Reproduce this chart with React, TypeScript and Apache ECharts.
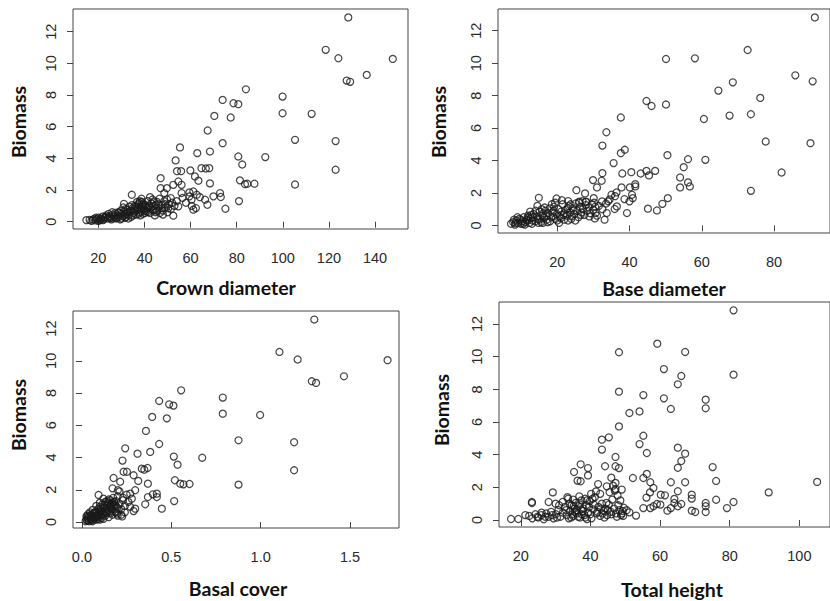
import React, { useEffect, useRef } from "react";
import * as echarts from "echarts";

// ---- Data (x, biomass) per panel ----
const crownDiameter: number[][] = [
  [128.4, 12.9], [118.6, 10.85], [124.1, 10.32], [147.7, 10.28], [136.4, 9.27], [127.7, 8.91], [129.2, 8.83],
  [84.0, 8.36], [73.9, 7.69], [78.6, 7.48], [80.7, 7.42], [99.9, 7.9], [99.9, 6.85], [112.5, 6.81], [70.3, 6.68],
  [77.4, 6.58], [67.4, 5.76], [73.9, 4.96], [105.3, 5.17], [122.9, 5.09], [55.4, 4.69], [62.9, 4.33], [68.4, 4.43],
  [80.7, 4.12], [82.4, 3.61], [92.4, 4.08], [53.5, 3.87], [64.7, 3.38], [66.6, 3.36], [68.1, 3.38], [122.9, 3.28],
  [54.1, 3.19], [55.9, 3.19], [59.9, 3.24], [61.9, 2.86], [63.4, 2.59], [68.4, 2.42], [81.4, 2.61], [83.6, 2.37],
  [84.6, 2.4], [87.7, 2.4], [105.3, 2.35], [47.0, 2.75], [47.0, 2.12], [49.7, 2.12], [52.5, 2.33], [54.7, 2.54],
  [56.1, 2.33], [56.1, 1.81], [59.5, 1.85], [61.2, 1.91], [62.7, 1.7], [66.3, 1.39], [67.3, 1.07], [69.9, 1.6],
  [72.8, 1.81], [73.1, 1.56], [75.1, 0.82], [81.0, 1.3], [61.2, 0.76], [62.3, 0.86], [60.4, 1.39], [52.5, 0.38],
  [54.7, 0.97], [51.4, 1.49], [48.6, 1.81], [34.5, 1.7], [31.1, 1.13], [42.4, 1.55], [44.1, 1.28],
  [14.8, 0.1], [16.2, 0.12], [17.7, 0.13], [18.3, 0.2], [18.8, 0.08], [19.4, 0.16], [20.1, 0.25], [20.6, 0.1],
  [21.2, 0.2], [21.8, 0.32], [22.3, 0.15], [22.9, 0.25], [23.4, 0.4], [24.0, 0.2], [24.5, 0.5], [25.1, 0.3],
  [25.6, 0.15], [26.2, 0.45], [26.8, 0.3], [27.3, 0.55], [27.8, 0.2], [28.4, 0.4], [28.9, 0.3], [29.5, 0.15],
  [30.0, 0.5], [30.5, 0.35], [31.0, 0.62], [31.6, 0.25], [32.1, 0.5], [32.6, 0.75], [33.1, 0.4], [33.7, 0.6],
  [34.2, 0.3], [34.8, 0.85], [35.3, 0.55], [35.8, 1.0], [36.3, 0.45], [36.9, 0.75], [37.4, 1.1], [37.9, 0.6],
  [38.4, 0.9], [38.9, 1.25], [39.4, 0.5], [39.9, 0.8], [40.4, 1.05], [40.9, 0.65], [41.4, 1.3], [41.9, 0.9],
  [42.5, 0.55], [43.0, 1.15], [43.6, 0.75], [44.2, 1.0], [44.8, 0.6], [45.4, 1.25], [46.0, 0.85], [46.7, 0.55],
  [47.3, 1.05], [47.9, 0.7], [48.6, 1.3], [49.3, 0.9], [50.0, 0.6], [50.7, 1.1], [37.0, 0.85], [38.0, 1.3],
  [39.0, 0.95], [40.0, 0.7], [36.0, 0.65], [35.0, 0.4], [33.5, 0.95], [31.5, 0.45], [29.0, 0.55], [27.0, 0.38],
  [25.0, 0.22], [23.0, 0.3], [21.0, 0.15], [19.0, 0.25], [42.0, 1.0], [43.5, 1.4], [44.5, 0.4], [45.5, 0.7],
  [46.5, 1.45], [41.0, 0.8], [39.5, 1.15], [38.5, 0.7], [37.5, 0.5], [34.0, 0.7], [32.0, 0.3], [30.8, 0.9],
  [28.0, 0.25], [26.0, 0.6], [48.0, 0.45], [49.8, 1.4], [51.5, 0.8], [53.0, 1.0], [54.0, 1.3], [56.5, 1.5],
  [58.0, 1.2], [59.5, 1.6], [60.5, 1.0], [64.0, 1.55],
  [17.0, 0.05], [20.0, 0.05], [22.0, 0.1], [24.8, 0.35], [26.5, 0.2], [28.6, 0.6], [30.2, 0.2], [32.3, 0.6],
  [33.0, 0.2], [35.5, 0.75], [36.5, 0.95], [37.7, 1.2], [38.2, 0.4], [39.2, 1.05], [40.2, 0.55], [40.7, 0.95],
  [41.6, 0.6], [42.8, 0.85], [44.0, 0.7], [45.0, 1.05], [46.2, 1.1], [47.6, 0.85], [49.0, 1.1], [50.3, 0.85],
  [52.0, 1.2], [36.8, 1.25], [38.7, 1.45], [34.6, 1.05], [31.8, 0.8], [29.8, 0.7],
];

const baseDiameter: number[][] = [
  [91.3, 12.82], [72.7, 10.81], [50.1, 10.26], [58.1, 10.3], [85.9, 9.25], [90.7, 8.88], [68.6, 8.82], [64.6, 8.31],
  [76.2, 7.86], [44.7, 7.67], [46.1, 7.36], [50.1, 7.45], [37.6, 6.65], [60.6, 6.56], [67.7, 6.77], [73.6, 6.85],
  [33.6, 5.74], [32.5, 4.92], [77.7, 5.17], [90.1, 5.07], [37.6, 4.45], [38.7, 4.66], [50.5, 4.33], [56.2, 4.08],
  [61.0, 4.04], [35.6, 3.84], [55.0, 3.59], [38.0, 3.2], [40.5, 3.28], [43.1, 3.2], [44.7, 3.36], [45.4, 3.08],
  [47.1, 3.36], [32.5, 3.22], [29.9, 2.79], [32.3, 2.75], [31.0, 2.34], [54.0, 2.95], [54.0, 2.34], [56.2, 2.65],
  [56.7, 2.4], [73.6, 2.13], [82.1, 3.26], [25.3, 2.17], [27.7, 1.97], [14.9, 1.7], [40.1, 2.34], [41.6, 2.4],
  [41.6, 2.54], [37.8, 2.34], [35.0, 1.89], [36.4, 2.03], [40.7, 1.89], [38.6, 1.62], [40.0, 1.48], [40.9, 1.68],
  [50.6, 1.68], [49.1, 1.33], [45.1, 1.03], [47.6, 0.92], [39.3, 0.76], [35.9, 1.01], [36.5, 1.17], [33.7, 0.76],
  [33.1, 0.35], [30.4, 0.43], [30.6, 0.76], [32.4, 1.48], [34.1, 1.48], [30.1, 1.68], [19.8, 1.66], [27.9, 1.46],
  [26.1, 1.46], [23.0, 1.5],
  [7.2, 0.1], [7.8, 0.2], [8.3, 0.05], [8.7, 0.3], [9.1, 0.15], [9.5, 0.4], [9.9, 0.1], [10.3, 0.25], [10.7, 0.5],
  [11.1, 0.2], [11.5, 0.35], [11.9, 0.6], [12.3, 0.15], [12.7, 0.45], [13.1, 0.3], [13.5, 0.7], [13.9, 0.25],
  [14.3, 0.55], [14.7, 0.4], [15.1, 0.85], [15.5, 0.2], [15.9, 0.6], [16.3, 0.45], [16.7, 0.9], [17.1, 0.35],
  [17.5, 0.75], [17.9, 1.05], [18.3, 0.5], [18.7, 0.8], [19.1, 1.15], [19.5, 0.4], [19.9, 0.7], [20.3, 1.0],
  [20.7, 0.55], [21.1, 0.85], [21.5, 1.3], [21.9, 0.35], [22.3, 0.95], [22.7, 0.6], [23.1, 1.2], [23.5, 0.8],
  [23.9, 0.4], [24.3, 1.05], [24.7, 0.7], [25.1, 1.35], [25.5, 0.9], [25.9, 0.5], [26.3, 1.15], [26.7, 0.8],
  [27.1, 1.0], [27.5, 0.65], [27.9, 1.25], [28.3, 0.9], [28.7, 1.1], [29.1, 0.75], [29.6, 1.3], [30.0, 0.95],
  [30.5, 1.15], [31.0, 0.6], [31.5, 1.2], [10.0, 0.35], [11.0, 0.05], [12.0, 0.5], [13.0, 0.1], [14.0, 0.9],
  [15.0, 0.35], [16.0, 0.15], [17.0, 0.6], [18.0, 0.25], [19.0, 0.9], [20.0, 0.3], [21.0, 0.45], [22.0, 0.75],
  [23.0, 0.3], [24.0, 0.55], [25.0, 0.3], [26.0, 1.4], [14.5, 1.2], [16.5, 1.1], [18.5, 1.3], [12.5, 0.85],
  [9.0, 0.5], [8.0, 0.35], [27.0, 1.5], [28.0, 1.45], [32.5, 1.0], [33.5, 1.35], [34.5, 1.6], [36.0, 1.8],
  [8.5, 0.15], [10.5, 0.1], [11.8, 0.3], [13.3, 0.5], [14.8, 0.15], [16.1, 0.75], [17.3, 0.2], [18.9, 0.55],
  [20.5, 0.15], [21.7, 0.65], [22.9, 1.05], [24.5, 0.9], [26.5, 0.65], [28.9, 0.55], [30.2, 1.4], [19.4, 1.4],
  [21.3, 1.55], [23.7, 1.3], [12.9, 0.65], [15.7, 1.0],
];

const basalCover: number[][] = [
  [1.3, 12.56], [1.105, 10.55], [1.207, 10.08], [1.71, 10.04], [1.466, 9.04], [1.286, 8.73], [1.31, 8.63],
  [0.555, 8.17], [0.432, 7.51], [0.488, 7.3], [0.512, 7.22], [0.788, 7.72], [0.788, 6.72], [0.997, 6.64],
  [0.393, 6.52], [0.475, 6.43], [0.358, 5.65], [0.432, 4.84], [0.876, 5.07], [1.187, 4.95], [0.242, 4.57],
  [0.311, 4.24], [0.382, 4.35], [0.514, 4.06], [0.535, 3.56], [0.673, 3.99], [0.227, 3.81], [0.335, 3.31],
  [0.367, 3.35], [0.349, 3.25], [1.187, 3.21], [0.233, 3.12], [0.252, 3.12], [0.289, 2.9], [0.315, 2.55],
  [0.369, 2.38], [0.52, 2.59], [0.55, 2.38], [0.568, 2.34], [0.602, 2.36], [0.876, 2.32], [0.177, 2.73],
  [0.171, 2.09], [0.214, 2.5], [0.201, 1.97], [0.298, 1.97], [0.419, 1.76], [0.397, 1.72], [0.369, 1.55],
  [0.419, 1.55], [0.516, 1.3], [0.447, 0.83], [0.354, 1.1], [0.298, 0.83], [0.289, 0.68], [0.225, 0.35],
  [0.196, 0.52], [0.093, 1.68], [0.27, 1.76], [0.279, 1.45],
  [0.02, 0.05], [0.025, 0.15], [0.03, 0.25], [0.035, 0.1], [0.04, 0.35], [0.045, 0.2], [0.05, 0.45], [0.055, 0.1],
  [0.06, 0.3], [0.065, 0.55], [0.07, 0.2], [0.075, 0.4], [0.08, 0.65], [0.085, 0.3], [0.09, 0.8], [0.095, 0.5],
  [0.1, 0.95], [0.105, 0.35], [0.11, 0.7], [0.115, 1.1], [0.12, 0.5], [0.125, 0.85], [0.13, 1.25], [0.135, 0.6],
  [0.14, 1.0], [0.145, 0.75], [0.15, 1.4], [0.155, 0.9], [0.16, 0.55], [0.165, 1.15], [0.17, 0.8], [0.175, 1.5],
  [0.18, 1.0], [0.185, 0.65], [0.19, 1.3], [0.195, 0.9], [0.2, 1.6], [0.21, 1.1], [0.22, 0.8], [0.23, 1.35],
  [0.24, 1.0], [0.25, 1.7], [0.26, 1.25], [0.27, 0.95], [0.05, 0.25], [0.06, 0.05], [0.07, 0.5], [0.08, 0.15],
  [0.09, 0.4], [0.1, 0.6], [0.11, 0.25], [0.12, 0.9], [0.13, 0.4], [0.14, 0.55], [0.15, 0.3], [0.16, 1.05],
  [0.17, 0.45], [0.18, 1.25], [0.19, 0.6], [0.2, 0.85], [0.04, 0.05], [0.03, 0.4], [0.06, 0.75], [0.08, 1.0],
  [0.1, 1.2], [0.12, 1.45], [0.14, 1.3], [0.21, 1.9], [0.23, 1.5], [0.22, 0.45], [0.24, 0.6], [0.09, 0.2],
  [0.11, 0.45], [0.13, 0.7], [0.15, 1.1], [0.17, 1.2], [0.2, 0.4], [0.025, 0.35], [0.035, 0.5], [0.045, 0.6],
  [0.03, 0.08], [0.05, 0.12], [0.065, 0.25], [0.075, 0.6], [0.085, 0.45], [0.095, 0.7], [0.105, 0.85],
  [0.115, 0.55], [0.125, 1.05], [0.135, 0.8], [0.145, 1.2], [0.155, 0.65], [0.165, 0.95], [0.185, 1.1],
  [0.055, 0.4], [0.07, 0.35], [0.1, 0.15], [0.16, 1.35], [0.19, 1.0], [0.12, 0.2],
];

const totalHeight: number[][] = [
  [81.1, 12.84], [59.2, 10.8], [48.2, 10.27], [67.2, 10.29], [61.1, 9.24], [66.1, 8.82], [81.1, 8.9], [65.1, 8.31],
  [48.2, 7.86], [55.2, 7.65], [61.1, 7.45], [73.1, 7.37], [73.1, 6.84], [63.1, 6.8], [54.1, 6.65], [51.2, 6.55],
  [48.2, 5.73], [55.2, 5.16], [43.3, 4.92], [45.3, 5.06], [54.1, 4.65], [43.3, 4.31], [56.2, 4.1], [65.1, 4.43],
  [67.2, 4.06], [47.2, 3.86], [66.1, 3.61], [44.2, 3.29], [47.2, 3.29], [48.2, 3.18], [37.2, 3.41], [39.3, 3.18],
  [65.1, 3.2], [75.1, 3.24], [35.3, 2.94], [39.3, 2.73], [36.3, 2.41], [37.2, 2.37], [46.0, 2.59], [52.2, 2.57],
  [55.2, 2.57], [56.2, 2.82], [57.2, 2.31], [63.1, 2.31], [67.2, 2.31], [76.1, 2.39], [105.1, 2.33], [91.2, 1.69],
  [42.2, 2.2], [47.2, 2.27], [44.7, 2.06], [47.2, 1.9], [49.0, 1.86], [58.1, 1.96], [57.1, 1.69], [65.1, 1.76],
  [69.1, 1.55], [69.1, 1.31], [76.1, 1.24], [81.1, 1.1], [79.2, 0.73], [73.1, 1.04], [73.1, 0.84], [73.1, 0.49],
  [69.1, 0.57], [70.1, 0.49], [29.2, 1.69], [23.2, 1.1], [23.2, 1.04], [17.2, 0.06], [19.3, 0.06], [53.1, 0.27],
  [51.2, 0.47], [60.2, 1.55], [61.4, 1.51], [59.1, 0.98], [60.1, 0.94], [56.1, 1.37], [55.2, 0.73], [57.2, 0.73],
  [58.1, 0.84], [62.1, 0.57], [63.1, 0.73], [64.1, 1.04], [66.1, 0.98], [65.1, 0.84], [64.1, 1.29],
  [21.3, 0.3], [22.4, 0.25], [23.3, 0.1], [24.2, 0.35], [25.0, 0.15], [25.9, 0.3], [26.6, 0.05], [27.3, 0.4],
  [28.0, 0.2], [28.7, 0.5], [29.4, 0.1], [30.1, 0.35], [30.8, 0.6], [31.4, 0.2], [32.1, 0.45], [32.7, 0.8],
  [33.2, 0.3], [33.6, 1.3], [33.8, 0.1], [34.2, 0.55], [34.6, 0.9], [35.0, 0.25], [35.4, 0.7], [35.8, 1.05],
  [36.2, 0.4], [36.6, 0.85], [37.0, 0.15], [37.4, 1.2], [37.8, 0.55], [38.3, 0.3], [38.8, 0.9], [39.3, 0.45],
  [39.8, 1.15], [40.3, 0.1], [40.8, 0.65], [41.3, 1.4], [41.8, 0.4], [42.3, 0.8], [42.8, 0.25], [43.3, 1.0],
  [43.8, 0.55], [44.3, 0.7], [44.8, 0.3], [45.3, 0.95], [45.8, 0.5], [46.3, 1.25], [46.8, 0.7], [47.3, 0.4],
  [47.8, 1.5], [48.3, 0.6], [48.8, 0.3], [49.2, 0.55], [49.6, 0.75], [50.4, 0.6], [36.0, 0.6], [34.0, 1.0],
  [33.0, 0.6], [35.0, 1.25], [36.5, 0.2], [38.0, 0.7], [39.0, 0.05], [31.0, 0.9], [29.0, 0.3], [27.0, 0.2],
  [26.0, 0.45], [32.0, 1.1], [40.0, 0.35], [42.0, 0.5], [44.0, 0.15], [46.0, 0.35], [48.0, 0.9], [45.0, 0.6],
  [43.0, 0.7], [41.0, 0.95], [37.5, 0.35], [35.5, 0.5], [34.5, 0.15], [28.0, 1.1], [30.0, 1.0], [38.5, 1.3],
  [49.0, 0.4], [47.0, 1.8], [45.5, 1.7], [46.5, 2.1], [42.8, 1.6], [41.6, 1.75], [40.2, 1.6], [39.0, 1.2],
  [36.8, 1.45],
  [33.4, 1.4], [34.8, 0.35], [36.9, 0.95], [38.6, 0.15], [40.6, 1.3], [43.5, 0.4], [47.6, 0.2], [49.4, 0.25],
  [24.8, 0.2], [30.4, 0.15], [35.2, 0.85], [37.3, 0.65], [39.6, 0.8], [44.6, 1.05], [48.6, 1.2],
];

// ---- Tick labels ----
const biomassTicks = [0, 2, 4, 6, 8, 10, 12];
const crownTicks = [20, 40, 60, 80, 100, 120, 140];
const baseTicks = [20, 40, 60, 80];
const basalTicks = [0, 0.5, 1.0, 1.5];
const heightTicks = [20, 40, 60, 80, 100];

const xTitles = ["Crown diameter", "Base diameter", "Basal cover", "Total height"];
const yTitle = "Biomass";

const TICK_FONT = "'Liberation Sans', Arial, sans-serif";
const TITLE_FONT = "Lato, 'Open Sans', sans-serif";

export default function App() {
  const ref = useRef<HTMLDivElement>(null);

  useEffect(() => {
    if (!ref.current) return;
    const chart = echarts.init(ref.current, undefined, { renderer: "svg" });

    const panels = [
      { data: crownDiameter, xt: crownTicks, grid: { left: 73, top: 9, width: 335, height: 220 }, xr: [9.0, 154.3], yr: [-0.46, 13.43], fmt: (v: number) => String(v) },
      { data: baseDiameter, xt: baseTicks, grid: { left: 498, top: 9, width: 342, height: 224 }, xr: [3.6, 95.5], yr: [-0.47, 13.34], fmt: (v: number) => String(v) },
      { data: basalCover, xt: basalTicks, grid: { left: 73, top: 311, width: 326, height: 217 }, xr: [-0.05, 1.774], yr: [-0.37, 13.09], fmt: (v: number) => v.toFixed(1) },
      { data: totalHeight, xt: heightTicks, grid: { left: 499, top: 302, width: 341, height: 225 }, xr: [13.75, 108.8], yr: [-0.43, 13.35], fmt: (v: number) => String(v) },
    ];

    const tickStyle = { color: "#444", width: 1 };
    const labelStyle = { color: "#2a2a2a", fontFamily: TICK_FONT, fontSize: 14.5 };

    const option: any = {
      animation: false,
      backgroundColor: "#fff",
      grid: panels.map((p) => ({ ...p.grid, show: true, borderColor: "#444", borderWidth: 1, backgroundColor: "transparent" })),
      xAxis: panels.map((p, i) => ({
        type: "value",
        gridIndex: i,
        min: p.xr[0],
        max: p.xr[1],
        axisLine: { show: false },
        splitLine: { show: false },
        axisTick: { show: true, length: 6, customValues: p.xt, lineStyle: tickStyle },
        axisLabel: { ...labelStyle, margin: 21, customValues: p.xt, formatter: p.fmt },
      })),
      yAxis: panels.map((p, i) => ({
        type: "value",
        gridIndex: i,
        min: p.yr[0],
        max: p.yr[1],
        axisLine: { show: false },
        splitLine: { show: false },
        axisTick: { show: true, length: 6, customValues: biomassTicks, lineStyle: tickStyle },
        axisLabel: { ...labelStyle, margin: 15, rotate: 90, customValues: biomassTicks },
      })),
      series: panels.map((p, i) => ({
        type: "scatter",
        xAxisIndex: i,
        yAxisIndex: i,
        data: p.data,
        symbol: "circle",
        symbolSize: 7,
        silent: true,
        itemStyle: { color: "rgba(0,0,0,0)", borderColor: "#1a1a1a", borderWidth: 1.25 },
      })),
      graphic: [
        ...[
          { x: 226, y: 287 },
          { x: 664, y: 288 },
          { x: 238, y: 588 },
          { x: 672, y: 589 },
        ].map((pos, i) => ({
          type: "text",
          x: pos.x,
          y: pos.y,
          style: { text: xTitles[i], textAlign: "center", textVerticalAlign: "middle", font: `bold 19.5px ${TITLE_FONT}`, fill: "#111" },
        })),
        ...[
          { x: 18, y: 122 },
          { x: 438, y: 122 },
          { x: 18, y: 415 },
          { x: 441, y: 410 },
        ].map((pos) => ({
          type: "text",
          x: pos.x,
          y: pos.y,
          rotation: Math.PI / 2,
          style: { text: yTitle, textAlign: "center", textVerticalAlign: "middle", font: `bold 19.5px ${TITLE_FONT}`, fill: "#111" },
        })),
      ],
    };

    chart.setOption(option);
    return () => chart.dispose();
  }, []);

  return <div ref={ref} style={{ position: "absolute", left: 0, top: 0, width: 830, height: 601 }} />;
}
